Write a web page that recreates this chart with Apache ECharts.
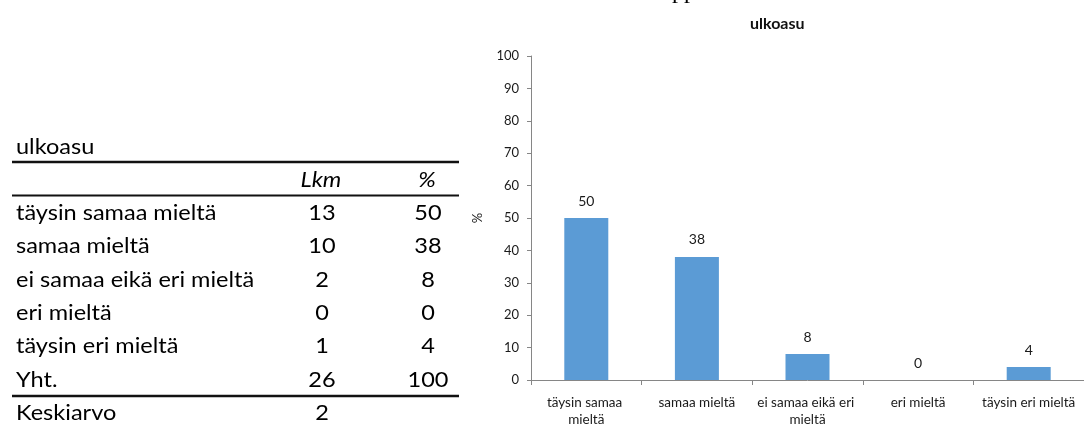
<!DOCTYPE html>
<html>
<head>
<meta charset="utf-8">
<script src="https://cdn.jsdelivr.net/npm/echarts@6/dist/echarts.min.js"></script>
<style>
html,body{margin:0;padding:0;background:#fff;}
#c{width:1084px;height:425px;}
</style>
</head>
<body>
<div id="c"></div>
<script>
// ---- data ----
var tableTitle = 'ulkoasu';
var categories = ['täysin samaa mieltä', 'samaa mieltä', 'ei samaa eikä eri mieltä', 'eri mieltä', 'täysin eri mieltä'];
var counts = [13, 10, 2, 0, 1];
var percents = [50, 38, 8, 0, 4];
var totalLabel = 'Yht.';
var totalCount = 26;
var totalPercent = 100;
var meanLabel = 'Keskiarvo';
var meanValue = 2;
var headerCols = ['Lkm', '%'];
var yTicks = [0, 10, 20, 30, 40, 50, 60, 70, 80, 90, 100];
var yAxisName = '%';
var chartTitle = 'ulkoasu';

// ---- table graphics ----
var TF = 'Lato';
var TS = 21;
var SX = 1.12;
var g = [];
function txt(t, x, y, align, opts) {
  var st = {text: String(t), x: 0, y: 0, fontFamily: TF, fontSize: TS, fill: '#000', align: align, verticalAlign: 'middle'};
  if (opts) for (var k in opts) st[k] = opts[k];
  g.push({type: 'text', silent: true, x: x, y: y, scaleX: SX, style: st});
}
function hline(y, w) {
  g.push({type: 'line', silent: true, shape: {x1: 12, y1: y, x2: 459, y2: y}, style: {stroke: '#111', lineWidth: w}});
}
txt(tableTitle, 16, 147, 'left');
hline(162, 2.5);
txt(headerCols[0], 321, 180, 'center', {fontStyle: 'italic'});
txt(headerCols[1], 427, 180, 'center', {fontStyle: 'italic'});
hline(195.5, 2);
var rowY0 = 213.3, rowStep = 33.3;
var rowsL = categories.concat([totalLabel]);
var rowsC = counts.concat([totalCount]);
var rowsP = percents.concat([totalPercent]);
for (var i = 0; i < rowsL.length; i++) {
  var y = rowY0 + i * rowStep;
  txt(rowsL[i], 16, y, 'left');
  txt(rowsC[i], 322, y, 'center');
  txt(rowsP[i], 428, y, 'center');
}
hline(396, 2.5);
txt(meanLabel, 16, 413, 'left');
txt(meanValue, 322, 413, 'center');
// cut-off heading fragment at the very top
g.push({type: 'text', silent: true, style: {text: 'pp', x: 672, y: -8, fontFamily: 'Liberation Serif', fontSize: 24, fill: '#000', align: 'left', verticalAlign: 'middle'}});

var chart = echarts.init(document.getElementById('c'));
var AF = 'Lato';
chart.setOption({
  animation: false,
  title: {text: chartTitle, left: 745, top: 11, textStyle: {fontFamily: AF, fontSize: 16, fontWeight: 'bold', color: '#111'}},
  graphic: g,
  grid: {left: 531, right: 0, top: 56, bottom: 45, containLabel: false, outerBoundsMode: 'none'},
  xAxis: {
    type: 'category', data: categories,
    axisLine: {lineStyle: {color: '#868686', width: 1}},
    axisTick: {show: true, length: 5, lineStyle: {color: '#868686'}},
    axisLabel: {fontFamily: AF, fontSize: 13.5, color: '#1a1a1a', margin: 14, width: 118, overflow: 'break', lineHeight: 17, interval: 0}
  },
  yAxis: {
    type: 'value', min: 0, max: 100, interval: 10,
    name: yAxisName, nameLocation: 'middle', nameGap: 47,
    nameTextStyle: {fontFamily: AF, fontSize: 13, color: '#1a1a1a'},
    axisLine: {show: true, lineStyle: {color: '#868686', width: 1}},
    axisTick: {show: true, length: 4, lineStyle: {color: '#868686'}},
    splitLine: {show: false},
    axisLabel: {fontFamily: AF, fontSize: 13, color: '#1a1a1a', margin: 12,
      customValues: yTicks}
  },
  series: [{
    type: 'bar', data: percents, barWidth: 44,
    itemStyle: {color: '#5B9BD5'},
    label: {show: true, position: 'top', distance: 10, fontFamily: AF, fontSize: 14, color: '#1a1a1a'}
  }]
});
</script>
</body>
</html>
